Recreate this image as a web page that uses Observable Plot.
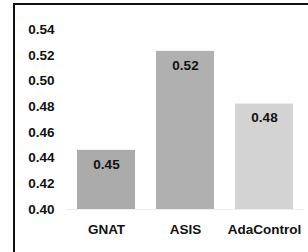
<!DOCTYPE html>
<html>
<head>
<meta charset="utf-8">
<script src="https://cdn.jsdelivr.net/npm/d3@7"></script>
<script src="https://cdn.jsdelivr.net/npm/@observablehq/plot@0.6"></script>
<style>
  html, body { margin: 0; padding: 0; background: #fff; overflow: hidden; }
  #chart { position: absolute; left: 0; top: 0; }
  #chart svg { border-left: 2px solid #111; border-top: 2px solid #111; margin-left: 13px; margin-top: 3px; display: block; }
</style>
</head>
<body>
<div id="chart"></div>
<script>
const categories = ["GNAT", "ASIS", "AdaControl"];
const values = [0.446, 0.523, 0.482];
const valueLabels = ["0.45", "0.52", "0.48"];
const colors = ["#ababab", "#b0b0b0", "#d3d3d3"];
const yTicks = [0.40, 0.42, 0.44, 0.46, 0.48, 0.50, 0.52, 0.54];

const data = categories.map((c, i) => ({cat: c, v: values[i], label: valueLabels[i], base: 0.40}));

const chart = Plot.plot({
  width: 293,
  height: 247,
  marginTop: 24,
  marginBottom: 43,
  marginLeft: 51,
  marginRight: 4,
  style: {fontFamily: "'Liberation Sans', Arial, sans-serif", fontSize: "13px", fontWeight: "bold", color: "#111", background: "transparent"},
  x: {domain: categories, paddingInner: 0.27, paddingOuter: 0.14, label: null},
  y: {domain: [0.40, 0.54], ticks: yTicks, tickFormat: d3.format(".2f"), label: null},
  color: {domain: categories, range: colors},
  marks: [
    Plot.ruleY([0.40], {stroke: "#eee"}),
    Plot.barY(data, {x: "cat", y1: "base", y2: "v", fill: "cat"}),
    Plot.text(data, {x: "cat", y: "v", text: "label", dy: 14, fill: "#111", fontSize: 13.5, fontWeight: "bold"}),
    Plot.axisY({ticks: yTicks, tickFormat: d3.format(".2f"), tickSize: 0, tickPadding: 12, label: null, fontSize: 13.5, fontWeight: "bold", fill: "#111"}),
    Plot.axisX({tickSize: 0, tickPadding: 15, label: null, fontSize: 13.5, fontWeight: "bold", fill: "#111"})
  ]
});
document.getElementById("chart").appendChild(chart);
</script>
</body>
</html>
